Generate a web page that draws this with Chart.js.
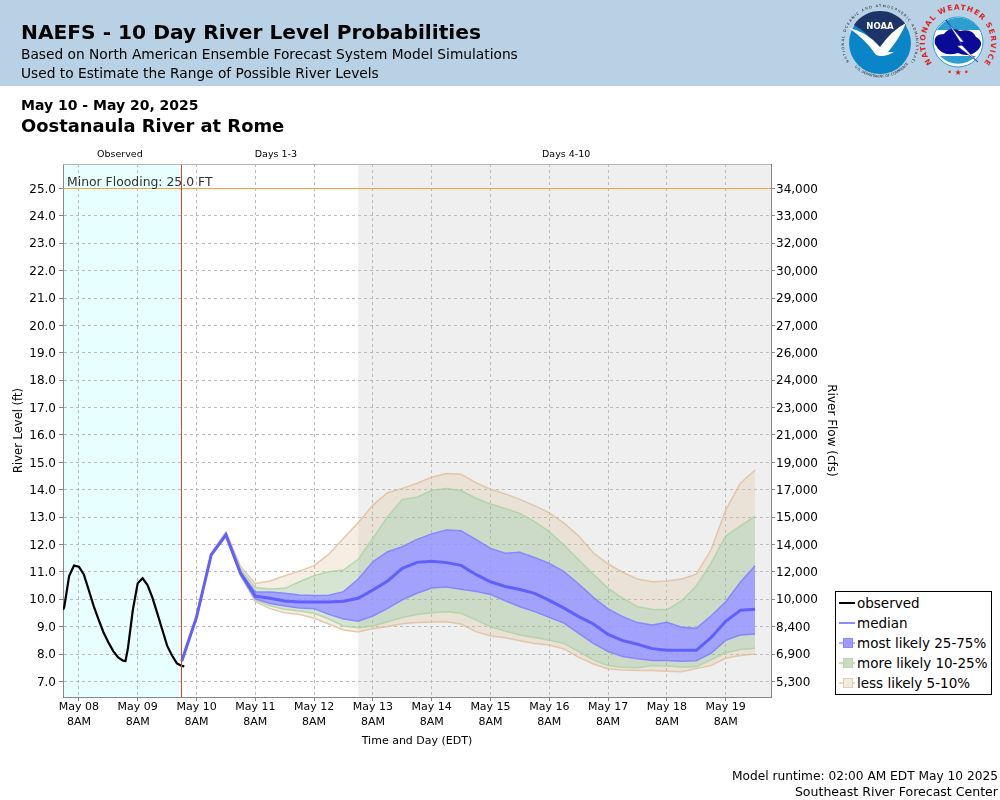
<!DOCTYPE html>
<html>
<head>
<meta charset="utf-8">
<title>NAEFS - 10 Day River Level Probabilities</title>
<script src="https://cdn.jsdelivr.net/npm/chart.js@4"></script>
<style>
	html, body { margin: 0; padding: 0; background: #fff; font-family: "DejaVu Sans", sans-serif; color: #000; }
	#page { position: relative; width: 1000px; height: 800px; overflow: hidden; }
	#banner { position: absolute; left: 0; top: 0; width: 1000px; height: 86px; background: #b9d1e4; }
	#myChart { position: absolute; left: 0; top: 0; }
	.txt { position: absolute; white-space: nowrap; }
	#legend { position: absolute; left: 835px; top: 591px; width: 155px; height: 102px; border: 1px solid #000; background: #fff; }
	.row { position: absolute; left: 0; height: 20px; line-height: 20px; font-size: 13.5px; }
	.row span.name { position: absolute; left: 21px; white-space: nowrap; }
	.row i { position: absolute; left: 3px; top: 9px; width: 16px; height: 2px; }
	.row b { position: absolute; left: 7px; top: 5px; width: 8px; height: 8px; border: 1px solid; }
	.foot { right: 2px; font-size: 12.2px; }
	svg { position: absolute; left: 830px; top: 0; }
</style>
</head>
<body>
<div id="page">
	<div id="banner"></div>
	<canvas id="myChart" width="1000" height="800"></canvas>

	<div class="txt" style="left:21px;top:20px;font-size:20.2px;font-weight:bold;">NAEFS - 10 Day River Level Probabilities</div>
	<div class="txt" style="left:21px;top:46px;font-size:13.76px;">Based on North American Ensemble Forecast System Model Simulations</div>
	<div class="txt" style="left:21px;top:65px;font-size:13.76px;">Used to Estimate the Range of Possible River Levels</div>
	<div class="txt" style="left:21px;top:97px;font-size:14px;font-weight:bold;">May 10 - May 20, 2025</div>
	<div class="txt" style="left:21px;top:115px;font-size:17.9px;font-weight:bold;">Oostanaula River at Rome</div>
	<div class="txt foot" style="top:769px;">Model runtime: 02:00 AM EDT May 10 2025</div>
	<div class="txt foot" style="top:784px;font-size:12.55px;">Southeast River Forecast Center</div>

	<svg width="170" height="86" viewBox="0 0 170 86">
		<defs>
			<path id="noaaTop" d="M 20 63 A 36 36 0 1 1 80 63"/>
			<path id="noaaBottom" d="M 17 56 A 36 36 0 0 0 83 56"/>
			<path id="nwsRing" d="M 102 63 A 33 33 0 1 1 154 63"/>
		</defs>
		<circle cx="50" cy="43" r="31" fill="#0a85c8"/>
		<path d="M 24 25 A 31 31 0 0 1 76 25 L 62 40 L 50 50 Q 40 34 24 25 Z" fill="#1c3468"/>
		<path d="M 19 28 Q 36 31 50 47 Q 62 30 76 23 Q 70 38 58 52 L 64 52 Q 54 58 46 55 Q 36 40 19 28 Z" fill="#fff"/>
		<text font-size="8.5" font-weight="bold" fill="#fff" x="50" y="29" text-anchor="middle">NOAA</text>
		<text font-size="3.6" fill="#223"><textPath href="#noaaTop" startOffset="1%" textLength="160">NATIONAL OCEANIC AND ATMOSPHERIC ADMINISTRATION</textPath></text>
		<text font-size="3.6" fill="#223"><textPath href="#noaaBottom" startOffset="16%">U.S. DEPARTMENT OF COMMERCE</textPath></text>
		<circle cx="128" cy="42" r="25" fill="#fff" stroke="#2a9fd0" stroke-width="1"/>
		<path d="M 107 30 A 25 25 0 0 1 150 30 Z" fill="#2a9fd0"/>
		<path d="M 110 56 A 25 25 0 0 0 146 56 Z" fill="#2a9fd0"/>
		<path d="M 105 44 Q 103 34 114 34 Q 120 26 130 31 Q 142 28 146 37 Q 155 42 148 50 Q 140 58 128 53 Q 112 58 105 44 Z" fill="#0a0a96"/>
		<path d="M 116 20 L 134 42 L 129 42 L 148 62 L 127 46 L 132 45 Z" fill="#fff" stroke="#0a0a96" stroke-width="0.6"/>
		<text font-size="7.4" font-weight="bold" fill="#e02020"><textPath href="#nwsRing" textLength="147">NATIONAL WEATHER SERVICE</textPath></text>
		<text font-size="8" fill="#e02020" x="128" y="75" text-anchor="middle">• ★ •</text>
	</svg>

	<div id="legend">
		<div class="row" style="top:1px;width:100%;"><i style="background:#000;"></i><span class="name">observed</span></div>
		<div class="row" style="top:21px;width:100%;"><i style="background:#8888ff;"></i><span class="name">median</span></div>
		<div class="row" style="top:41px;width:100%;"><i style="background:#b0b0ff;"></i><b style="background:#9c9cff;border-color:#8888ff;"></b><span class="name">most likely 25-75%</span></div>
		<div class="row" style="top:61px;width:100%;"><i style="background:#c4dcbc;"></i><b style="background:#c8dcc0;border-color:#b8d8b0;"></b><span class="name">more likely 10-25%</span></div>
		<div class="row" style="top:81px;width:100%;"><i style="background:#ecd8c4;"></i><b style="background:#f3ebe0;border-color:#e5cdb5;"></b><span class="name">less likely 5-10%</span></div>
	</div>
</div>

<script>
// hours counted from May 08 8AM
const observed_hours = [-6.5, -6, -4, -2, 0, 2, 4, 6, 8, 10, 12, 14, 16, 18, 19, 20, 22, 24, 26, 28, 30, 32, 34, 36, 38, 40, 42, 43];
const observed_values = [9.62, 9.71, 10.85, 11.23, 11.19, 10.91, 10.34, 9.76, 9.27, 8.8, 8.43, 8.11, 7.88, 7.76, 7.75, 8.21, 9.61, 10.59, 10.77, 10.52, 10.06, 9.49, 8.9, 8.31, 7.95, 7.66, 7.57, 7.55];

const forecast_hours = [42, 48, 54, 60, 66, 72, 78, 84, 90, 96, 102, 108, 114, 120, 126, 132, 138, 144, 150, 156, 162, 168, 174, 180, 186, 192, 198, 204, 210, 216, 222, 228, 234, 240, 246, 252, 258, 264, 270, 276];

const median_values = [7.75, 9.35, 11.62, 12.35, 10.95, 10.12, 10.04, 9.94, 9.9, 9.9, 9.9, 9.93, 10.04, 10.34, 10.67, 11.13, 11.35, 11.39, 11.34, 11.24, 10.91, 10.64, 10.47, 10.36, 10.22, 9.96, 9.68, 9.37, 9.1, 8.72, 8.49, 8.36, 8.2, 8.14, 8.14, 8.14, 8.6, 9.2, 9.6, 9.64];
const p75_values = [7.77, 9.36, 11.63, 12.38, 11.0, 10.27, 10.27, 10.22, 10.16, 10.14, 10.15, 10.28, 10.74, 11.37, 11.74, 11.92, 12.19, 12.39, 12.53, 12.5, 12.19, 11.86, 11.68, 11.72, 11.53, 11.31, 11.01, 10.56, 10.07, 9.65, 9.37, 9.15, 9.06, 9.16, 8.98, 8.94, 9.39, 9.91, 10.62, 11.23];
const p25_values = [7.74, 9.34, 11.61, 12.33, 10.9, 10.02, 9.85, 9.76, 9.68, 9.66, 9.45, 9.28, 9.2, 9.39, 9.67, 9.98, 10.22, 10.41, 10.45, 10.37, 10.29, 10.18, 9.95, 9.73, 9.55, 9.34, 9.13, 8.76, 8.39, 8.09, 7.91, 7.83, 7.77, 7.77, 7.74, 7.76, 8.03, 8.5, 8.7, 8.73];
const p90_values = [7.78, 9.38, 11.65, 12.42, 11.1, 10.43, 10.38, 10.4, 10.64, 10.86, 11.01, 11.07, 11.46, 12.23, 13.02, 13.65, 13.73, 13.97, 14.05, 13.97, 13.69, 13.48, 13.32, 13.14, 12.84, 12.47, 11.98, 11.44, 10.91, 10.4, 10.04, 9.73, 9.64, 9.62, 9.94, 10.49, 11.31, 12.31, 12.68, 13.04];
const p10_values = [7.73, 9.33, 11.6, 12.32, 10.88, 9.98, 9.76, 9.64, 9.57, 9.49, 9.28, 9.03, 8.96, 9.03, 9.18, 9.34, 9.45, 9.51, 9.55, 9.49, 9.25, 9.0, 8.84, 8.7, 8.61, 8.51, 8.39, 8.09, 7.79, 7.58, 7.52, 7.5, 7.58, 7.57, 7.53, 7.54, 7.79, 8.05, 8.17, 8.21];
const p95_values = [7.8, 9.4, 11.68, 12.47, 11.2, 10.58, 10.67, 10.86, 11.03, 11.23, 11.65, 12.23, 12.8, 13.44, 13.89, 14.05, 14.24, 14.46, 14.59, 14.57, 14.26, 14.02, 13.85, 13.65, 13.42, 13.16, 12.78, 12.31, 11.7, 11.29, 10.99, 10.74, 10.64, 10.67, 10.74, 10.92, 11.8, 13.26, 14.24, 14.72];
const p5_values = [7.72, 9.32, 11.59, 12.31, 10.85, 9.91, 9.66, 9.51, 9.45, 9.31, 9.1, 8.88, 8.81, 8.93, 9.01, 9.11, 9.15, 9.17, 9.18, 9.1, 8.82, 8.66, 8.6, 8.49, 8.39, 8.33, 8.19, 7.88, 7.64, 7.46, 7.42, 7.4, 7.4, 7.37, 7.36, 7.47, 7.58, 7.85, 7.95, 8.0];

const x_tick_hours = [0, 24, 48, 72, 96, 120, 144, 168, 192, 216, 240, 264];
const x_tick_days = ['May 08', 'May 09', 'May 10', 'May 11', 'May 12', 'May 13', 'May 14', 'May 15', 'May 16', 'May 17', 'May 18', 'May 19'];
const level_ticks = [7, 8, 9, 10, 11, 12, 13, 14, 15, 16, 17, 18, 19, 20, 21, 22, 23, 24, 25];
const flow_labels = ['5,300', '6,900', '8,400', '10,000', '12,000', '14,000', '15,000', '17,000', '19,000', '21,000', '23,000', '24,000', '26,000', '27,000', '29,000', '30,000', '32,000', '33,000', '34,000'];

const minor_flood_level = 25;
const run_hour = 42;
const days_4_hour = 114;

function getPoints(hours, values)
{
	return values.map((value, i) => ({x: hours[i], y: value}));
}

function getBand(values, border_color, fill_color, fill_target)
{
	return {
		data: getPoints(forecast_hours, values),
		borderColor: border_color,
		borderWidth: 1.5,
		backgroundColor: fill_color,
		fill: fill_target,
		pointRadius: 0,
		tension: 0,
		order: 1,
	};
}

// same rounding the library uses for its grid lines
function alignPixel(pixel)
{
	return Math.round(pixel - 0.5) + 0.5;
}

const tan_line = 'rgba(222,190,155,0.8)';
const tan_fill = 'rgba(222,190,150,0.27)';
const green_line = 'rgba(170,210,160,0.8)';
const green_fill = 'rgba(150,190,140,0.4)';
const blue_line = 'rgba(130,130,255,0.9)';
const blue_fill = 'rgba(148,148,255,0.85)';

const background_plugin = {
	id: 'background_plugin',
	beforeDraw(chart)
	{
		const {ctx, chartArea, scales} = chart;
		ctx.save();
		ctx.fillStyle = '#e8ffff';
		ctx.fillRect(chartArea.left, chartArea.top, scales.x.getPixelForValue(run_hour) - chartArea.left, chartArea.height);
		ctx.fillStyle = '#efefef';
		const gray_left = scales.x.getPixelForValue(days_4_hour);
		ctx.fillRect(gray_left, chartArea.top, chartArea.right - gray_left, chartArea.height);
		ctx.restore();
	},
	afterDatasetsDraw(chart)
	{
		const {ctx, chartArea, scales} = chart;
		ctx.save();

		const flood_y = alignPixel(scales.y.getPixelForValue(minor_flood_level));
		ctx.strokeStyle = '#ffa040';
		ctx.lineWidth = 1;
		ctx.beginPath();
		ctx.moveTo(chartArea.left, flood_y);
		ctx.lineTo(chartArea.right, flood_y);
		ctx.stroke();

		const run_x = alignPixel(scales.x.getPixelForValue(run_hour));
		ctx.strokeStyle = '#d84030';
		ctx.beginPath();
		ctx.moveTo(run_x, chartArea.top);
		ctx.lineTo(run_x, chartArea.bottom);
		ctx.stroke();

		ctx.strokeStyle = '#b4b4b4';
		ctx.beginPath();
		ctx.moveTo(chartArea.left, chartArea.top + 0.5);
		ctx.lineTo(chartArea.right, chartArea.top + 0.5);
		ctx.stroke();

		ctx.fillStyle = '#333';
		ctx.font = '12.4px "DejaVu Sans"';
		ctx.textBaseline = 'alphabetic';
		ctx.textAlign = 'left';
		ctx.fillText('Minor Flooding: 25.0 FT', chartArea.left + 4, flood_y - 3);

		ctx.fillStyle = '#000';
		ctx.font = '9.5px "DejaVu Sans"';
		ctx.textAlign = 'center';
		ctx.fillText('Observed', scales.x.getPixelForValue(16.7), 157);
		ctx.fillText('Days 1-3', scales.x.getPixelForValue(80.4), 157);
		ctx.fillText('Days 4-10', scales.x.getPixelForValue(198.9), 157);
		ctx.restore();
	},
};

window.onload = function(){

	const canvas = document.getElementById('myChart').getContext('2d');

	new Chart(canvas, {
		type: 'line',
		plugins: [background_plugin],
		data: {
			datasets: [
				getBand(p25_values, blue_line, blue_fill, false),
				getBand(p75_values, blue_line, blue_fill, 0),
				getBand(p90_values, green_line, green_fill, 1),
				getBand(p10_values, green_line, green_fill, 0),
				getBand(p95_values, tan_line, tan_fill, 2),
				getBand(p5_values, tan_line, tan_fill, 3),
				{
					data: getPoints(forecast_hours, median_values),
					borderColor: '#6060ff',
					borderWidth: 3,
					pointRadius: 0,
					fill: false,
					tension: 0,
					order: 0,
				},
				{
					data: getPoints(observed_hours, observed_values),
					borderColor: '#000',
					borderWidth: 2.2,
					pointRadius: 0,
					fill: false,
					tension: 0,
					order: 0,
				},
			],
		},
		options: {
			responsive: false,
			animation: false,
			layout: {padding: {left: 12, top: 164, right: 162, bottom: 52}},
			plugins: {legend: {display: false}, tooltip: {enabled: false}},
			scales: {
				x: {
					type: 'linear',
					min: -6.5,
					max: 282.5,
					afterBuildTicks: (scale) => { scale.ticks = x_tick_hours.map((value) => ({value: value})); },
					afterFit: (scale) => { scale.height = 51; },
					border: {color: '#888', width: 1, dash: [3, 3]},
					grid: {color: '#bbb', tickColor: '#888', tickLength: 4, tickBorderDash: []},
					ticks: {
						autoSkip: false,
						maxRotation: 0,
						padding: -1,
						color: '#000',
						font: {family: '"DejaVu Sans"', size: 11, lineHeight: 1.35},
						callback: (value, index) => [x_tick_days[index], '8AM'],
					},
					title: {display: true, text: 'Time and Day (EDT)', color: '#000', font: {family: '"DejaVu Sans"', size: 11}, padding: 0},
				},
				y: {
					position: 'left',
					min: 6.434,
					max: 25.894,
					afterBuildTicks: (scale) => { scale.ticks = level_ticks.map((value) => ({value: value})); },
					afterFit: (scale) => { scale.width = 51; },
					border: {color: '#888', width: 1, dash: [3, 3]},
					grid: {color: '#bbb', tickColor: '#888', tickLength: 4, tickBorderDash: []},
					ticks: {
						autoSkip: false,
						padding: 3,
						labelOffset: 1,
						color: '#000',
						font: {family: '"DejaVu Sans"', size: 12},
						callback: (value) => value.toFixed(1),
					},
					title: {display: true, text: 'River Level (ft)', color: '#000', font: {family: '"DejaVu Sans"', size: 11.5}, padding: 0},
				},
				y_flow: {
					position: 'right',
					min: 6.434,
					max: 25.894,
					afterBuildTicks: (scale) => { scale.ticks = level_ticks.map((value) => ({value: value})); },
					afterFit: (scale) => { scale.width = 67; },
					border: {color: '#888', width: 1},
					grid: {drawOnChartArea: false, color: '#888', tickLength: 4},
					ticks: {
						autoSkip: false,
						padding: 1,
						labelOffset: 1,
						color: '#000',
						font: {family: '"DejaVu Sans"', size: 12},
						callback: (value, index) => flow_labels[index],
					},
					title: {display: true, text: 'River Flow (cfs)', color: '#000', font: {family: '"DejaVu Sans"', size: 12}, padding: 0},
				},
			},
		},
	});
}
</script>
</body>
</html>
